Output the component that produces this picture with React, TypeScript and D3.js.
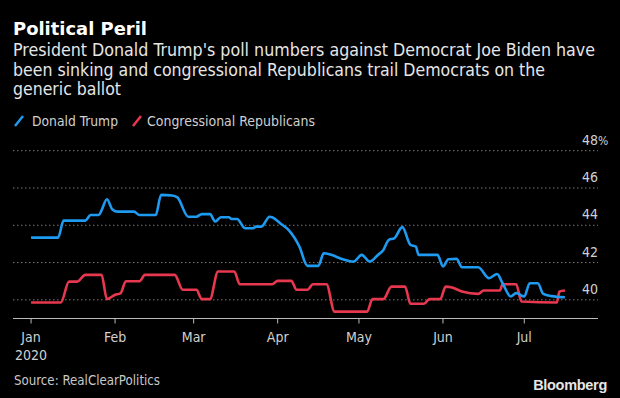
import React from 'react';
import * as d3 from 'd3';

const W = 620;
const H = 398;

const subtitleLines = [
  "President Donald Trump's poll numbers against Democrat Joe Biden have",
  "been sinking and congressional Republicans trail Democrats on the",
  "generic ballot",
];

const yTicks = [40, 42, 44, 46, 48];

const trumpDates = [
  "2020-01-01", "2020-01-11", "2020-01-13", "2020-01-21", "2020-01-23", "2020-01-26", "2020-01-27",
  "2020-01-29", "2020-01-31", "2020-02-02", "2020-02-08", "2020-02-10", "2020-02-16", "2020-02-18",
  "2020-02-22", "2020-02-24", "2020-02-28", "2020-03-02", "2020-03-04", "2020-03-07", "2020-03-09",
  "2020-03-11", "2020-03-14", "2020-03-15", "2020-03-17", "2020-03-20", "2020-03-23", "2020-03-24",
  "2020-03-26", "2020-03-29", "2020-03-30", "2020-04-02", "2020-04-05", "2020-04-09", "2020-04-12",
  "2020-04-16", "2020-04-18", "2020-04-21", "2020-04-25", "2020-04-29", "2020-05-02", "2020-05-05",
  "2020-05-08", "2020-05-10", "2020-05-12", "2020-05-14", "2020-05-17", "2020-05-20", "2020-05-22",
  "2020-05-23", "2020-05-30", "2020-06-01", "2020-06-03", "2020-06-06", "2020-06-08", "2020-06-14",
  "2020-06-18", "2020-06-21", "2020-06-23", "2020-06-26", "2020-06-28", "2020-07-01", "2020-07-03",
  "2020-07-06", "2020-07-08", "2020-07-11", "2020-07-16",
];
const trumpValues = [
  43.34, 43.34, 44.25, 44.25, 44.55, 44.55, 44.8,
  45.4, 44.85, 44.73, 44.73, 44.55, 44.55, 45.63,
  45.6, 45.5, 44.46, 44.46, 44.6, 44.6, 44.2,
  44.43, 44.43, 44.34, 44.34, 43.84, 43.84, 43.93,
  43.93, 44.46, 44.43, 44.1, 43.75, 42.86, 41.82,
  41.82, 42.5, 42.4, 42.18, 42.05, 42.41, 42.05,
  42.41, 42.68, 43.22, 43.3, 43.9, 42.95, 42.86,
  42.41, 42.41, 41.79, 42.18, 42.2, 41.75, 41.75,
  41.16, 41.39, 40.89, 40.18, 40.36, 40.18, 40.89,
  40.89, 40.32, 40.2, 40.14,
];

const gopDates = [
  "2020-01-01", "2020-01-12", "2020-01-15", "2020-01-18", "2020-01-21", "2020-01-27", "2020-01-29",
  "2020-02-01", "2020-02-03", "2020-02-05", "2020-02-10", "2020-02-12", "2020-02-23", "2020-02-26",
  "2020-03-02", "2020-03-04", "2020-03-07", "2020-03-10", "2020-03-16", "2020-03-18", "2020-03-30",
  "2020-04-01", "2020-04-06", "2020-04-08", "2020-04-12", "2020-04-14", "2020-04-19", "2020-04-22",
  "2020-05-04", "2020-05-06", "2020-05-10", "2020-05-13", "2020-05-18", "2020-05-20", "2020-05-25",
  "2020-05-27", "2020-05-31", "2020-06-02", "2020-06-04", "2020-06-08", "2020-06-14", "2020-06-16",
  "2020-06-22", "2020-06-23", "2020-06-28", "2020-06-30", "2020-07-13", "2020-07-14", "2020-07-16",
];
const gopValues = [
  39.86, 39.86, 40.98, 40.98, 41.34, 41.34, 40.04,
  40.27, 40.35, 41.0, 41.0, 41.34, 41.34, 40.54,
  40.54, 40.04, 40.04, 41.52, 41.52, 40.84, 40.84,
  41.02, 41.02, 40.54, 40.54, 40.84, 40.84, 39.37,
  39.37, 40.04, 40.04, 40.71, 40.71, 39.79, 39.79,
  40.04, 40.04, 40.71, 40.68, 40.45, 40.32, 40.5,
  40.5, 40.84, 40.84, 39.91, 39.86, 40.45, 40.5,
];

const parse = d3.timeParse("%Y-%m-%d");

const FONT = "'DejaVu Sans Condensed', 'DejaVu Sans', sans-serif";

export default function App() {
  const left = 13;
  const right = 598;
  const top = 150.7;
  const bottom = 318.5;

  const x = d3.scaleTime()
    .domain([new Date(2019, 11, 25, 8), new Date(2020, 6, 28, 5)])
    .range([left, right]);
  const y = d3.scaleLinear().domain([39, 48]).range([bottom, top]);

  const line = d3.line<[Date, number]>()
    .x(d => x(d[0]))
    .y(d => y(d[1]))
    .curve(d3.curveMonotoneX);

  const trump = trumpDates.map((d, i) => [parse(d) as Date, trumpValues[i]] as [Date, number]);
  const gop = gopDates.map((d, i) => [parse(d) as Date, gopValues[i]] as [Date, number]);

  const months = d3.timeMonth.range(new Date(2020, 0, 1), new Date(2020, 7, 1));
  const fmt = d3.timeFormat("%b");

  return (
    <svg width={W} height={H} style={{ position: 'absolute', left: 0, top: 0, display: 'block', background: '#000' }}>
      <rect width={W} height={H} fill="#000" />
      <text x={13} y={35} fill="#fff" fontFamily="'DejaVu Sans', sans-serif" fontWeight="bold" fontSize={17}
        textLength={134} lengthAdjust="spacingAndGlyphs">Political Peril</text>
      {subtitleLines.map((s, i) => (
        <text key={i} x={13} y={56 + i * 19.5} fill="#e6e6e6" fontFamily={FONT} fontSize={17}
          textLength={[582, 532, 108][i]} lengthAdjust="spacingAndGlyphs">{s}</text>
      ))}

      <line x1={15} y1={126} x2={23} y2={116} stroke="#1e9bf0" strokeWidth={2.5} />
      <text x={32} y={126} fill="#d0d0d0" fontFamily={FONT} fontSize={14.5} textLength={86} lengthAdjust="spacingAndGlyphs">Donald Trump</text>
      <line x1={133} y1={126} x2={141} y2={116} stroke="#e8384f" strokeWidth={2.5} />
      <text x={147} y={126} fill="#d0d0d0" fontFamily={FONT} fontSize={14.5} textLength={168} lengthAdjust="spacingAndGlyphs">Congressional Republicans</text>

      {yTicks.map(t => (
        <g key={t}>
          <line x1={left} x2={right} y1={y(t)} y2={y(t)} stroke="#777" strokeWidth={1} strokeDasharray="1.5,2.5" />
          <text x={598} y={y(t) - 6} fill="#d0d0d0" fontFamily={FONT} fontSize={14} textAnchor="end">{t}</text>
          {t === 48 && <text x={598} y={y(t) - 6} fill="#d0d0d0" fontFamily={FONT} fontSize={12}>%</text>}
        </g>
      ))}

      <line x1={left} x2={right} y1={bottom} y2={bottom} stroke="#bbb" strokeWidth={1} />
      {months.map(m => (
        <g key={m.toISOString()}>
          <line x1={x(m)} x2={x(m)} y1={bottom} y2={bottom + 5} stroke="#bbb" strokeWidth={1} />
          <text x={x(m)} y={342} fill="#d0d0d0" fontFamily={FONT} fontSize={14} textAnchor="middle">{fmt(m)}</text>
        </g>
      ))}
      <text x={x(months[0])} y={360} fill="#d0d0d0" fontFamily={FONT} fontSize={14} textAnchor="middle">2020</text>

      <path d={line(gop) || ''} fill="none" stroke="#e8384f" strokeWidth={2.6} strokeLinejoin="round" />
      <path d={line(trump) || ''} fill="none" stroke="#1e9bf0" strokeWidth={2.6} strokeLinejoin="round" />

      <text x={14} y={385} fill="#c8c8c8" fontFamily={FONT} fontSize={14} textLength={146} lengthAdjust="spacingAndGlyphs">Source: RealClearPolitics</text>
      <text x={607} y={390} fill="#e6e6e6" fontFamily="'Liberation Sans', Arial, sans-serif" fontWeight="bold" fontSize={14.5}
        textAnchor="end" letterSpacing={-0.3}>Bloomberg</text>
    </svg>
  );
}
